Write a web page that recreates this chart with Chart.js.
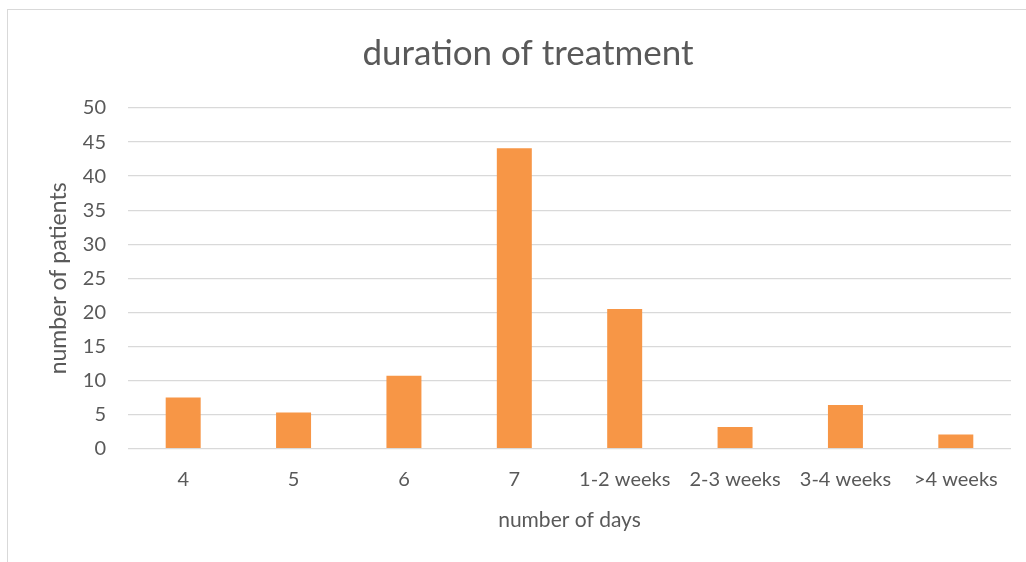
<!DOCTYPE html>
<html>
<head>
<meta charset="utf-8">
<script src="https://cdn.jsdelivr.net/npm/chart.js@4/dist/chart.umd.min.js"></script>
<style>
  body { margin: 0; background: #fff; }
  #wrap { position: relative; width: 1026px; height: 562px; overflow: hidden; }
  #frame { position: absolute; left: 7px; top: 9px; width: 1100px; height: 600px; border: 1px solid #d9d9d9; box-sizing: border-box; }
  canvas { position: absolute; left: 0; top: 0; }
</style>
</head>
<body>
<div id="wrap">
  <div id="frame"></div>
  <canvas id="chart" width="1026" height="562"></canvas>
</div>
<script>
const categories = ['4', '5', '6', '7', '1-2 weeks', '2-3 weeks', '3-4 weeks', '>4 weeks'];
const patients = [7.5, 5.3, 10.7, 44.1, 20.5, 3.2, 6.4, 2.1];
const yTicks = [0, 5, 10, 15, 20, 25, 30, 35, 40, 45, 50];

const textColor = '#595959';
const font = 'Lato, "Open Sans", sans-serif';

new Chart(document.getElementById('chart'), {
  type: 'bar',
  data: {
    labels: categories,
    datasets: [{
      data: patients,
      backgroundColor: '#f79646',
      borderWidth: 0,
      barPercentage: 0.317,
      categoryPercentage: 1
    }]
  },
  options: {
    responsive: false,
    animation: false,
    layout: { padding: { left: 45, right: 15, top: 0, bottom: 0 } },
    plugins: {
      legend: { display: false },
      tooltip: { enabled: false },
      title: {
        display: true,
        text: 'duration of treatment',
        color: textColor,
        font: { family: font, size: 35, weight: 'normal' },
        padding: { top: 33, bottom: 33 }
      }
    },
    scales: {
      x: {
        grid: { display: false, drawTicks: false },
        border: { display: false },
        ticks: {
          color: textColor,
          font: { family: font, size: 20 },
          maxRotation: 0,
          autoSkip: false,
          padding: 19
        },
        title: {
          display: true,
          text: 'number of days',
          color: textColor,
          font: { family: font, size: 21 },
          padding: { top: 10, bottom: 29 }
        },
        afterFit: s => { s.height = 113.3; }
      },
      y: {
        min: 0,
        max: 50,
        afterBuildTicks: s => { s.ticks = yTicks.map(v => ({ value: v })); },
        grid: { color: '#d9d9d9', lineWidth: 1.3, drawTicks: false },
        border: { display: false },
        ticks: {
          color: textColor,
          font: { family: font, size: 20 },
          padding: 22
        },
        title: {
          display: true,
          text: 'number of patients',
          color: textColor,
          font: { family: font, size: 23 },
          padding: 0
        },
        afterFit: s => { s.width = 128 - 45; }
      }
    }
  }
});
</script>
</body>
</html>
